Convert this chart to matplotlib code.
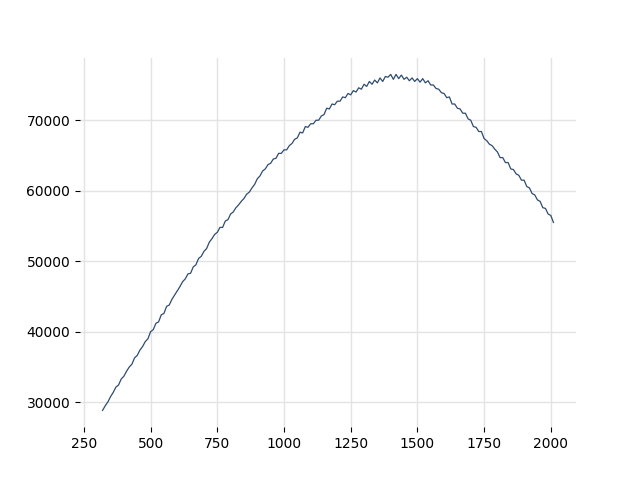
import matplotlib
matplotlib.use("Agg")
import matplotlib.pyplot as plt

x_start, x_stop, x_step = 320, 2011, 10
x_values = list(range(x_start, x_stop, x_step))
y_values = [
    28850, 29500, 30050, 30800, 31400, 32150, 32450, 33300, 33700, 34400,
    35000, 35400, 36300, 36650, 37400, 37900, 38600, 39000, 40000, 40300,
    41200, 41400, 42400, 42600, 43600, 43800, 44600, 45200, 45800, 46400,
    47100, 47500, 48200, 48300, 49200, 49500, 50400, 50700, 51400, 51800,
    52700, 53200, 53800, 54100, 54800, 54800, 55700, 55900, 56700, 57000,
    57600, 58000, 58500, 58900, 59500, 59800, 60400, 60900, 61700, 62100,
    62800, 63100, 63700, 63900, 64500, 64600, 65300, 65300, 65800, 65800,
    66400, 66700, 67300, 67500, 68300, 68200, 69100, 69000, 69500, 69500,
    70000, 70000, 70600, 70800, 71700, 71600, 72300, 72200, 72700, 72700,
    73300, 73200, 73800, 73600, 74200, 74000, 74600, 74400, 75100, 74800,
    75500, 75100, 75700, 75300, 76000, 75500, 76200, 76100, 76500, 75800,
    76500, 75900, 76400, 75800, 76100, 75600, 76000, 75500, 75900, 75400,
    75900, 75300, 75600, 75000, 75000, 74500, 74400, 73900, 73800, 73200,
    73300, 72300, 72300, 71700, 71600, 71000, 71000, 70200, 70000, 69100,
    69000, 68400, 68400, 67400, 67100, 66600, 66400, 65900, 65500, 64700,
    64700, 64000, 64000, 63100, 63000, 62400, 62200, 61500, 61500, 60600,
    60400, 59600, 59400, 58700, 58500, 57600, 57500, 56700, 56500, 55500,
]
x_ticks = [250, 500, 750, 1000, 1250, 1500, 1750, 2000]
y_ticks = [30000, 40000, 50000, 60000, 70000]

fig, ax = plt.subplots(figsize=(6.4, 4.8), dpi=100)
ax.plot(x_values, y_values, color="#2f4b70", linewidth=0.9)
ax.set_xticks(x_ticks)
ax.set_yticks(y_ticks)
ax.grid(True, color="#e3e3e3", linewidth=1.0)
ax.set_axisbelow(True)
for s in ax.spines.values():
    s.set_visible(False)
fig.savefig("out.png", dpi=100)
